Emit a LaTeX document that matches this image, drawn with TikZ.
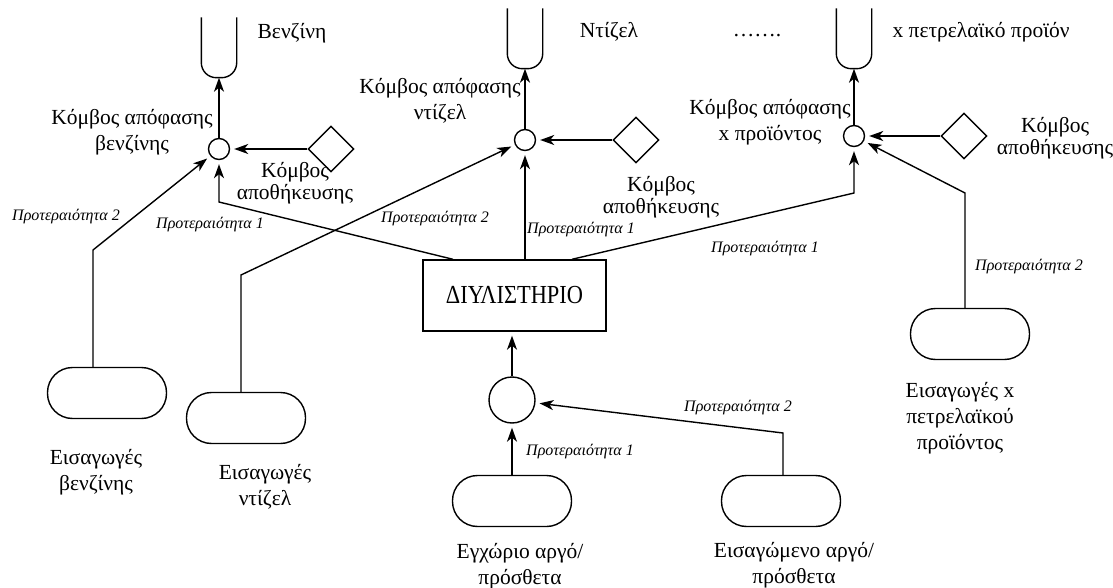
\documentclass[tikz,border=0pt]{standalone}
\usepackage{fontspec}
\setmainfont{Liberation Serif}
\usetikzlibrary{arrows.meta,shapes.geometric}
\begin{document}
\begin{tikzpicture}[x=1pt,y=-1pt,line width=1.4pt,
  arr/.style={-{Stealth[length=14pt,width=10pt,inset=4pt]},shorten >=4pt},
  arrt/.style={-{Stealth[length=14pt,width=10pt,inset=4pt]}},
  tank/.style={minimum width=34pt,minimum height=59pt,inner sep=0pt},
  dec/.style={circle,draw,minimum size=21pt,inner sep=0pt},
  store/.style={diamond,draw,minimum width=46pt,minimum height=46pt,inner sep=0pt},
  src/.style={draw,rounded corners=25pt,minimum width=119pt,minimum height=51pt,inner sep=0pt},
  lbl/.style={font=\fontsize{21.5}{26}\selectfont,align=center,inner sep=0pt},
  slbl/.style={font=\fontsize{21.5}{22}\selectfont,align=center,inner sep=0pt},
  prio/.style={font=\fontsize{16}{18}\selectfont\itshape,inner sep=0pt}]
\useasboundingbox (0,0) rectangle (1113,588);
% tanks
\node[tank] (t1) at (219,47.5) {};
\node[tank] (t2) at (525,38.5) {};
\node[tank] (t3) at (854,38.5) {};
\foreach \t in {t1,t2,t3}
  \draw[rounded corners=15pt] (\t.north west) -- (\t.south west) -- (\t.south east) -- (\t.north east);
% decision nodes
\node[dec] (d1) at (219,149) {};
\node[dec] (d2) at (525,140) {};
\node[dec] (d3) at (854,136) {};
% storage nodes
\node[store] (s1) at (331,149) {};
\node[store] (s2) at (636,140) {};
\node[store] (s3) at (964,136) {};
% refinery and crude
\node[draw,minimum width=183pt,minimum height=71pt,inner sep=0pt,font=\fontsize{20}{24}\selectfont] (ref) at (514.5,295.5) {\raisebox{-7pt}{\scalebox{1.12}[1.3]{ΔΙΥΛΙΣΤΗΡΙΟ}}};
\node[circle,draw,minimum size=46pt,inner sep=0pt] (cc) at (512,400) {};
% sources
\node[src] (bi) at (107,393) {};
\node[src] (di) at (246,418) {};
\node[src] (dc) at (512,501) {};
\node[src] (ic) at (781,501) {};
\node[src] (xi) at (970,334) {};
% bends
\coordinate (b1) at (93,250);
\coordinate (b2) at (241,275);
\coordinate (b3) at (219,202);
\coordinate (b4) at (854,193);
\coordinate (b5) at (965,193);
\coordinate (b6) at (783,433);
% connectors
\draw[arrt] (d1.north) -- (t1.south);
\draw[arrt] (d2.north) -- (t2.south);
\draw[arrt] (d3.north) -- (t3.south);
\draw[arr] (s1) -- (d1);
\draw[arr] (s2) -- (d2);
\draw[arr] (s3) -- (d3);
\draw[arr] (bi.north -| b1) -- (b1) -- (d1);
\draw[arr] (di.north -| b2) -- (b2) -- (d2);
\draw[arr] ([xshift=-61.5pt]ref.north) -- (b3) -- (d1);
\draw[arr] (ref.north -| d2) -- (d2);
\draw[arr] ([xshift=57.5pt]ref.north) -- (b4) -- (d3);
\draw[arr] (xi.north -| b5) -- (b5) -- (d3);
\draw[arr] (cc.north) -- (cc.north |- ref.south);
\draw[arr] (dc) -- (cc);
\draw[arr] (ic.north -| b6) -- (b6) -- (cc);
% product labels
\node[lbl] (n1) at (292,33) {Βενζίνη};
\node[lbl] (n2) at (609,32) {Ντίζελ};
\node[lbl] (n3) at (981,32) {x πετρελαϊκό προϊόν};
\node[lbl,anchor=base] (n4) at (757,37) {…….};
% decision labels
\node[lbl] (l1) at (132,132) {Κόμβος απόφασης\\βενζίνης};
\node[lbl] (l2) at (440,101) {Κόμβος απόφασης\\ντίζελ};
\node[lbl] (l3) at (770,122) {Κόμβος απόφασης\\x προϊόντος};
% storage labels
\node[slbl] (k1) at (295,183) {Κόμβος\\αποθήκευσης};
\node[slbl] (k2) at (661,197) {Κόμβος\\αποθήκευσης};
\node[slbl] (k3) at (1055,138) {Κόμβος\\αποθήκευσης};
% source labels
\node[lbl] (e1) at (96,472) {Εισαγωγές\\βενζίνης};
\node[lbl] (e2) at (265,487) {Εισαγωγές\\ντίζελ};
\node[lbl] (e3) at (520,566) {Εγχώριο αργό/\\πρόσθετα};
\node[lbl] (e4) at (794,565) {Εισαγώμενο αργό/\\πρόσθετα};
\node[lbl] (e5) at (960,418) {Εισαγωγές x\\πετρελαϊκού\\προϊόντος};
% priority labels
\node[prio] (p1) at (66,217) {Προτεραιότητα 2};
\node[prio] (p2) at (210,225) {Προτεραιότητα 1};
\node[prio] (p3) at (435,219) {Προτεραιότητα 2};
\node[prio] (p4) at (581,230) {Προτεραιότητα 1};
\node[prio] (p5) at (765,249) {Προτεραιότητα 1};
\node[prio] (p6) at (1029,267) {Προτεραιότητα 2};
\node[prio] (p7) at (738,408) {Προτεραιότητα 2};
\node[prio] (p8) at (580,452) {Προτεραιότητα 1};
\end{tikzpicture}
\end{document}
